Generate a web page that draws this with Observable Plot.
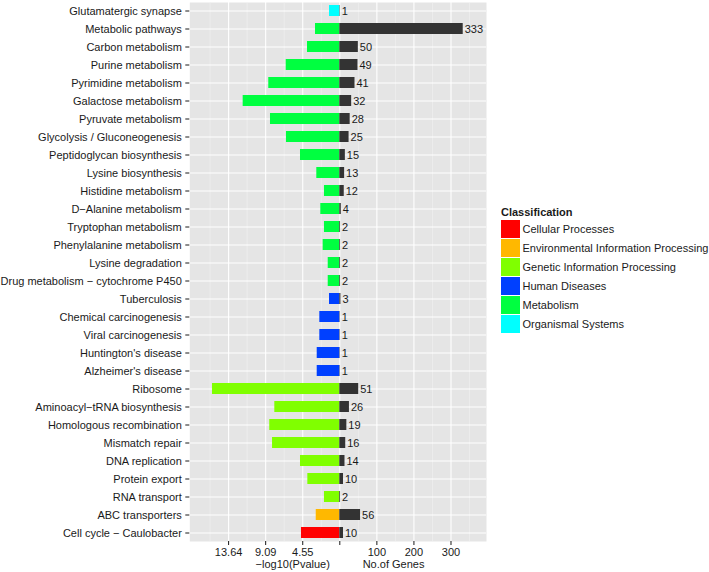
<!DOCTYPE html>
<html><head><meta charset="utf-8">
<script src="https://cdn.jsdelivr.net/npm/d3@7"></script>
<script src="https://cdn.jsdelivr.net/npm/@observablehq/plot@0.6"></script>
<style>
body{margin:0;background:#fff;}
#wrap{position:relative;width:709px;height:572px;font-family:"Liberation Sans",Arial,sans-serif;}
#legend{position:absolute;left:0;top:0;font-size:11px;color:#1a1a1a;}
#legend .title{position:absolute;left:501px;top:205px;font-weight:bold;line-height:14px;white-space:nowrap;}
#legend .key{position:absolute;left:501px;width:19px;height:18px;}
#legend .lab{position:absolute;left:522.5px;line-height:18px;white-space:nowrap;}
</style></head><body><div id="wrap"><div id="legend"></div></div>
<script>
// ---- data ----
const pathways = ["Glutamatergic synapse","Metabolic pathways","Carbon metabolism","Purine metabolism","Pyrimidine metabolism","Galactose metabolism","Pyruvate metabolism","Glycolysis / Gluconeogenesis","Peptidoglycan biosynthesis","Lysine biosynthesis","Histidine metabolism","D\u2212Alanine metabolism","Tryptophan metabolism","Phenylalanine metabolism","Lysine degradation","Drug metabolism \u2212 cytochrome P450","Tuberculosis","Chemical carcinogenesis","Viral carcinogenesis","Huntington's disease","Alzheimer's disease","Ribosome","Aminoacyl\u2212tRNA biosynthesis","Homologous recombination","Mismatch repair","DNA replication","Protein export","RNA transport","ABC transporters","Cell cycle \u2212 Caulobacter"];
const classification = ["Organismal Systems","Metabolism","Metabolism","Metabolism","Metabolism","Metabolism","Metabolism","Metabolism","Metabolism","Metabolism","Metabolism","Metabolism","Metabolism","Metabolism","Metabolism","Metabolism","Human Diseases","Human Diseases","Human Diseases","Human Diseases","Human Diseases","Genetic Information Processing","Genetic Information Processing","Genetic Information Processing","Genetic Information Processing","Genetic Information Processing","Genetic Information Processing","Genetic Information Processing","Environmental Information Processing","Cellular Processes"];
const negLog10P = [1.26,2.98,3.96,6.57,8.71,11.85,8.50,6.54,4.82,2.82,1.88,2.33,1.88,2.04,1.42,1.42,1.26,2.45,2.45,2.77,2.77,15.61,7.97,8.59,8.25,4.82,3.92,1.88,2.89,4.70];
const geneCounts = [1,333,50,49,41,32,28,25,15,13,12,4,2,2,2,2,3,1,1,1,1,51,26,19,16,14,10,2,56,10];
const classNames = ["Cellular Processes","Environmental Information Processing","Genetic Information Processing","Human Diseases","Metabolism","Organismal Systems"];
const classColors = ["#FF0000","#FFB800","#80FF00","#0040FF","#00FF40","#00FFFF"];
const xTickValues = [-300,-200,-100,0,100,200,300];
const xTickLabels = ["13.64","9.09","4.55","","100","200","300"];
const minorTicks = [-350,-250,-150,-50,50,150,250,350];
const xTitles = [{label:"\u2212log10(Pvalue)", x:-127},{label:"No.of Genes", x:145}];
const SCALE = 22; // genes per -log10(P) unit on the shared axis

const rows = pathways.map((name,i)=>({name, cls:classification[i], p:negLog10P[i], g:geneCounts[i]}));
const tickMap = new Map(xTickValues.map((v,i)=>[v, xTickLabels[i]]));
const ink = "#1a1a1a";

const chart = Plot.plot({
  width: 709, height: 572,
  marginLeft: 189.3, marginRight: 223, marginTop: 2, marginBottom: 31,
  style: {fontFamily: "Liberation Sans, Arial, sans-serif", fontSize: "11px", background: "transparent", overflow: "visible"},
  x: {domain: [-404.7, 395.8]},
  y: {domain: pathways, range: [0.98, 542.2], paddingInner: 0.4, paddingOuter: 0.2, align: 0.5},
  color: {domain: classNames, range: classColors},
  marks: [
    Plot.frame({fill: "#E5E5E5", stroke: "none"}),
    Plot.gridX(minorTicks, {stroke: "#F2F2F2", strokeOpacity: 1, strokeWidth: 0.6}),
    Plot.gridX(xTickValues, {stroke: "#FFFFFF", strokeOpacity: 1, strokeWidth: 1.1}),
    Plot.gridY({stroke: "#FFFFFF", strokeOpacity: 1, strokeWidth: 1.1}),
    Plot.barX(rows, {y: "name", x1: d => -d.p * SCALE, x2: 0, fill: "cls"}),
    Plot.barX(rows, {y: "name", x1: 0, x2: "g", fill: "#333333"}),
    Plot.text(rows, {y: "name", x: "g", text: d => String(d.g), textAnchor: "start", dx: 1.5, fill: ink}),
    Plot.axisY({tickSize: 4, tickPadding: 4, color: ink, label: null}),
    Plot.axisX({ticks: xTickValues, tickFormat: d => tickMap.get(d), tickSize: 4, tickPadding: 2.5, color: ink, label: null}),
    Plot.text(xTitles, {x: "x", text: "label", frameAnchor: "bottom", lineAnchor: "middle", dy: 23, fill: ink})
  ]
});
document.getElementById("wrap").prepend(chart);

// legend
const lg = document.getElementById("legend");
const t = document.createElement("div"); t.className = "title"; t.textContent = "Classification"; lg.appendChild(t);
classNames.forEach((c,i)=>{
  const top = 220 + i*18.9;
  const k = document.createElement("div"); k.className = "key"; k.style.top = top + "px"; k.style.background = classColors[i]; lg.appendChild(k);
  const l = document.createElement("div"); l.className = "lab"; l.style.top = top + "px"; l.textContent = c; lg.appendChild(l);
});
</script></body></html>
